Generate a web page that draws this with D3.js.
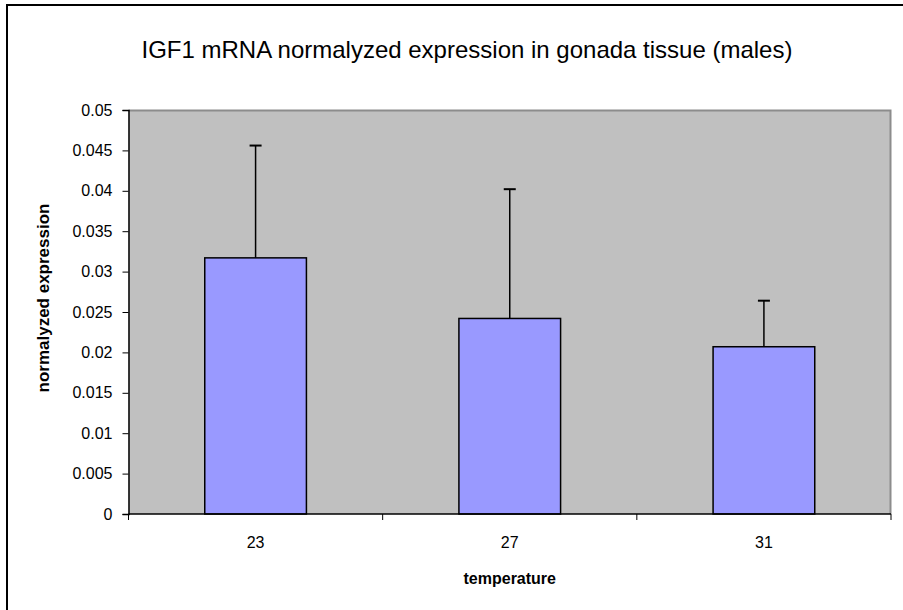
<!DOCTYPE html>
<html>
<head>
<meta charset="utf-8">
<script src="https://cdn.jsdelivr.net/npm/d3@7"></script>
<style>
  body { margin: 0; background: #fff; }
  text { font-family: "Liberation Sans", Arial, sans-serif; }
</style>
</head>
<body>
<div id="chart"></div>
<script>
const categories = ["23", "27", "31"];
const means = [0.0317, 0.0242, 0.0207];
const errPlus = [0.0139, 0.0160, 0.0057];
const yTicks = [0, 0.005, 0.01, 0.015, 0.02, 0.025, 0.03, 0.035, 0.04, 0.045, 0.05];
const yTickLabels = ["0", "0.005", "0.01", "0.015", "0.02", "0.025", "0.03", "0.035", "0.04", "0.045", "0.05"];

const W = 903, H = 610;
const margin = { top: 110, right: 12, bottom: 96, left: 128.5 };
const width = W - margin.left - margin.right;
const height = H - margin.top - margin.bottom;

const root = d3.select('#chart')
    .append('svg')
    .attr('width', W)
    .attr('height', H);

// outer chart frame (right/bottom edges fall outside the picture)
root.append('rect')
    .attr('x', 7).attr('y', 5)
    .attr('width', W + 10).attr('height', H + 10)
    .attr('fill', '#fff')
    .attr('stroke', '#000')
    .attr('stroke-width', 2);

root.append('text')
    .attr('x', 467)
    .attr('y', 58)
    .attr('text-anchor', 'middle')
    .style('font-size', '24px')
    .text('IGF1 mRNA normalyzed expression in gonada tissue (males)');

const svg = root.append('g')
    .attr('transform', `translate(${margin.left}, ${margin.top})`);

const x = d3.scaleBand()
    .domain(categories)
    .range([0, width])
    .paddingInner(0.6)
    .paddingOuter(0.3);

const y = d3.scaleLinear()
    .domain([0, 0.05])
    .range([height, 0]);

// plot area
svg.append('rect')
    .attr('width', width)
    .attr('height', height)
    .attr('fill', '#c0c0c0');
svg.append('path')
    .attr('d', `M0,0.5H${width - 0.5}V${height}`)
    .attr('fill', 'none')
    .attr('stroke', '#8c8c8c')
    .attr('stroke-width', 2);

// error bars (plus only)
const cap = 6;
const eb = svg.selectAll('.err')
    .data(categories)
    .enter()
    .append('g')
    .attr('class', 'err');
eb.append('line')
    .attr('x1', d => x(d) + x.bandwidth() / 2)
    .attr('x2', d => x(d) + x.bandwidth() / 2)
    .attr('y1', (d, i) => y(means[i]))
    .attr('y2', (d, i) => y(means[i] + errPlus[i]))
    .attr('stroke', '#000')
    .attr('stroke-width', 1.5);
eb.append('line')
    .attr('x1', d => x(d) + x.bandwidth() / 2 - cap)
    .attr('x2', d => x(d) + x.bandwidth() / 2 + cap)
    .attr('y1', (d, i) => y(means[i] + errPlus[i]))
    .attr('y2', (d, i) => y(means[i] + errPlus[i]))
    .attr('stroke', '#000')
    .attr('stroke-width', 2);

svg.selectAll('.bar')
    .data(categories)
    .enter()
    .append('rect')
    .attr('class', 'bar')
    .attr('x', d => x(d))
    .attr('y', (d, i) => y(means[i]))
    .attr('width', x.bandwidth())
    .attr('height', (d, i) => height - y(means[i]))
    .attr('fill', '#9999ff')
    .attr('stroke', '#000')
    .attr('stroke-width', 1.5);

// y axis
const yAxis = svg.append('g')
    .attr('class', 'y-axis')
    .call(d3.axisLeft(y)
        .tickValues(yTicks)
        .tickSize(6)
        .tickPadding(10)
        .tickFormat((d, i) => yTickLabels[i]));
yAxis.select('.domain').attr('stroke-width', 1.5);
yAxis.selectAll('text').style('font-size', '16px').attr('fill', '#000');

// x axis: ticks between categories, labels at centres
const step = x.step();
const bounds = d3.range(categories.length + 1).map(i => i * step);
const xAxis = svg.append('g')
    .attr('class', 'x-axis')
    .attr('transform', `translate(0,${height})`);
xAxis.append('line')
    .attr('x1', 0).attr('x2', width)
    .attr('stroke', '#000')
    .attr('stroke-width', 1.5);
xAxis.selectAll('.tick')
    .data(bounds)
    .enter()
    .append('line')
    .attr('x1', d => d).attr('x2', d => d)
    .attr('y1', 0).attr('y2', 6)
    .attr('stroke', '#000');
xAxis.selectAll('.lbl')
    .data(categories)
    .enter()
    .append('text')
    .attr('x', d => x(d) + x.bandwidth() / 2)
    .attr('y', 34)
    .attr('text-anchor', 'middle')
    .style('font-size', '16px')
    .text(d => d);

svg.append("text")
    .attr("transform", "rotate(-90)")
    .attr("x", -(height / 2) + 14)
    .attr("y", -80)
    .style("text-anchor", "middle")
    .style("font-size", "17px")
    .style("font-weight", "bold")
    .text("normalyzed expression");

svg.append("text")
    .attr("x", x("27") + x.bandwidth() / 2)
    .attr("y", height + 70)
    .style("text-anchor", "middle")
    .style("font-size", "16px")
    .style("font-weight", "bold")
    .text("temperature");
</script>
</body>
</html>
